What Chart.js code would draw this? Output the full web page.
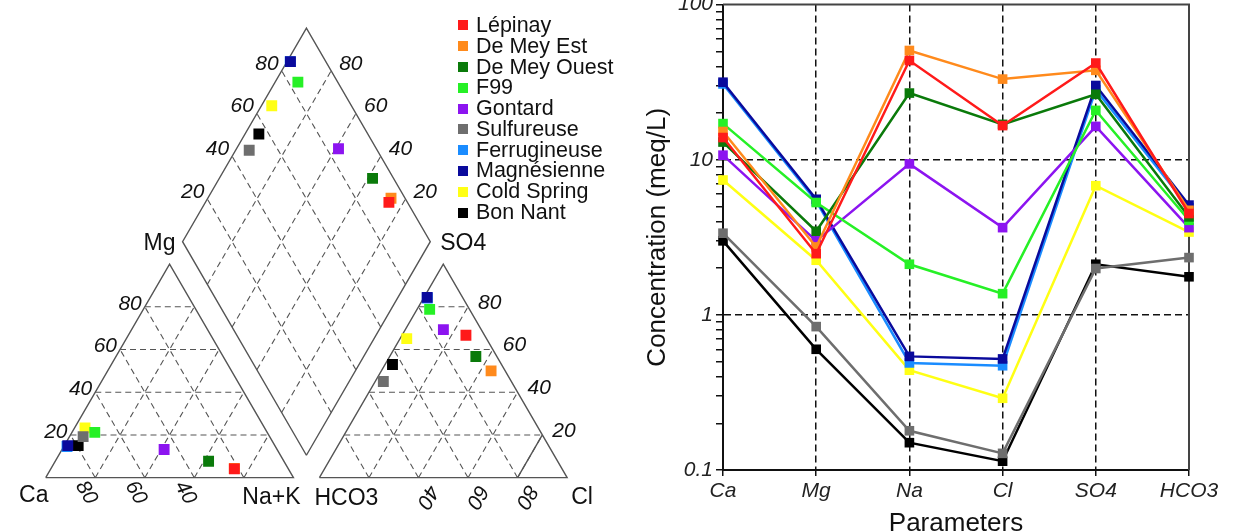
<!DOCTYPE html>
<html>
<head>
<meta charset="utf-8">
<script src="https://cdn.jsdelivr.net/npm/chart.js@4.4.1/dist/chart.umd.min.js"></script>
<style>
  html, body { margin: 0; padding: 0; background: #fff; }
  body { width: 1233px; height: 531px; position: relative; overflow: hidden; font-family: "Liberation Sans", Arial, sans-serif; }
  #piper { position: absolute; left: 0; top: 0; }
  #schoeller { position: absolute; left: 620px; top: -11px; }
  #legend { position: absolute; left: 458px; top: 15px; font-size: 21.5px; color: #111; }
  #legend .row { display: flex; align-items: center; height: 20.8px; white-space: nowrap; }
  #legend .box { width: 10px; height: 10px; margin-right: 8px; flex: none; }
</style>
</head>
<body>
<canvas id="piper" width="620" height="531"></canvas>
<canvas id="schoeller" width="613" height="554"></canvas>
<div id="legend"></div>
<script>
// --- data ---
const samples = ['Lépinay', 'De Mey Est', 'De Mey Ouest', 'F99', 'Gontard', 'Sulfureuse', 'Ferrugineuse', 'Magnésienne', 'Cold Spring', 'Bon Nant'];
const colors  = ['#ff1a1a', '#ff8a1c', '#0a7a0a', '#26f026', '#8c14f0', '#6e6e6e', '#1a8cff', '#0a0a9c', '#ffff14', '#000000'];
const params  = ['Ca', 'Mg', 'Na', 'Cl', 'SO4', 'HCO3'];

// Schoeller concentrations (meq/L), same order as params
const lepinay      = [13.9, 2.48, 43.6, 16.6, 42.0, 4.5];
const deMeyEst     = [15.2, 2.74, 50.6, 33.1, 37.7, 4.72];
const deMeyOuest   = [13.0, 3.46, 26.9, 16.9, 26.4, 4.28];
const f99          = [17.1, 5.3, 2.12, 1.37, 20.8, 4.07];
const gontard      = [10.7, 3.0, 9.4, 3.65, 16.4, 3.65];
const sulfureuse   = [3.36, 0.84, 0.179, 0.128, 1.99, 2.34];
const ferrugineuse = [30.8, 5.4, 0.49, 0.47, 28.3, 4.9];
const magnesienne  = [31.6, 5.56, 0.54, 0.52, 30.1, 5.1];
const coldSpring   = [7.4, 2.25, 0.44, 0.29, 6.8, 3.42];
const bonNant      = [3.0, 0.60, 0.15, 0.114, 2.12, 1.76];
const schoeller = [lepinay, deMeyEst, deMeyOuest, f99, gontard, sulfureuse, ferrugineuse, magnesienne, coldSpring, bonNant];

// Piper percentages (% of meq), one value per sample
const mgPct  = [4.1, 4.3, 7.7, 21.2, 13.2, 19.2, 14.6, 15.0, 23.3, 15.0];
const nakPct = [74.1, 74.0, 61.9, 9.2, 41.2, 5.5, 1.3, 1.4, 4.2, 5.6];
const so4Pct = [66.7, 50.0, 56.7, 78.8, 69.3, 45.0, 84.1, 84.4, 65.1, 53.0];
const clPct  = [25.8, 44.3, 34.8, 5.1, 15.4, 3.3, 1.5, 1.3, 2.7, 3.0];

const piperTicks = [20, 40, 60, 80];
const yLabelled  = [0.1, 1, 10, 100];

const FONT = '"Liberation Sans", Arial, sans-serif';

// keep Magnésienne drawn above Ferrugineuse, as in the figure
const drawOrder = i => samples[i] === 'Magnésienne' ? 5.5 : i;

// --- piper geometry (triangle side = 100) ---
const H = Math.sqrt(3) / 2 * 100;
const GAP = 10.5;
const pt = (x, y) => ({ x, y });
const lerp = (a, b, t) => pt(a.x + (b.x - a.x) * t, a.y + (b.y - a.y) * t);
const C0 = pt(0, 0), C1 = pt(100, 0), C2 = pt(50, H);
const A0 = pt(100 + GAP, 0), A1 = pt(200 + GAP, 0), A2 = pt(150 + GAP, H);
const DB = pt(100 + GAP / 2, GAP * Math.sqrt(3) / 2);
const DL = pt(50 + GAP / 2, H + DB.y), DR = pt(150 + GAP / 2, H + DB.y), DT = pt(100 + GAP / 2, 2 * H + DB.y);

function cationPt(mg, nak) { return pt(nak + mg / 2, mg * H / 100); }
function anionPt(so4, cl) { return pt(A0.x + cl + so4 / 2, so4 * H / 100); }
function diamondPt(nak, hco3) {
  const base = lerp(DL, DB, nak / 100);
  const up = 1 - hco3 / 100;
  return pt(base.x + (DT.x - DL.x) * up, base.y + (DT.y - DL.y) * up);
}

function segments(pairs) {
  const out = [];
  pairs.forEach(([a, b]) => out.push(a, b, { x: null, y: null }));
  return out;
}

const gridPairs = [];
piperTicks.forEach(k => {
  const t = k / 100;
  gridPairs.push([lerp(C0, C2, t), lerp(C1, C2, t)]);
  gridPairs.push([lerp(C1, C0, t), lerp(C0, C2, 1 - t)]);
  gridPairs.push([lerp(C0, C1, t), lerp(C1, C2, 1 - t)]);
  gridPairs.push([lerp(A0, A2, t), lerp(A1, A2, t)]);
  gridPairs.push([lerp(A1, A0, t), lerp(A0, A2, 1 - t)]);
  gridPairs.push([lerp(A0, A1, t), lerp(A1, A2, 1 - t)]);
  gridPairs.push([lerp(DL, DB, t), lerp(DT, DR, t)]);
  gridPairs.push([lerp(DR, DB, t), lerp(DT, DL, t)]);
});

const frame = [C0, C1, C2, C0, { x: null, y: null }, A0, A1, A2, A0, { x: null, y: null },
  DB, DR, DT, DL, DB, { x: null, y: null }, lerp(A0, A1, 0.8), lerp(A1, A2, 0.2)];

const pointSets = samples.map((name, i) => {
  const hco3 = 100 - so4Pct[i] - clPct[i];
  return {
    label: name,
    data: [cationPt(mgPct[i], nakPct[i]), anionPt(so4Pct[i], clPct[i]), diamondPt(nakPct[i], hco3)],
    backgroundColor: colors[i],
    borderColor: colors[i],
    borderWidth: 0,
    pointStyle: 'rect',
    pointRadius: 7.7,
    order: drawOrder(i)
  };
});

const piperLabels = {
  id: 'piperLabels',
  beforeDatasetsDraw(chart) {
    const { ctx, scales: { x, y } } = chart;
    const put = (str, p, dx, dy, align, rot, size, italic) => {
      ctx.save();
      ctx.translate(x.getPixelForValue(p.x) + dx, y.getPixelForValue(p.y) + dy);
      if (rot) ctx.rotate(rot * Math.PI / 180);
      ctx.font = (italic ? 'italic ' : '') + size + 'px ' + FONT;
      ctx.fillStyle = '#111';
      ctx.textAlign = align;
      ctx.textBaseline = 'middle';
      ctx.fillText(str, 0, 0);
      ctx.restore();
    };
    piperTicks.forEach(k => {
      const t = k / 100;
      put(String(k), lerp(C0, C2, t), -3, -3, 'right', 0, 21, true);
      put(String(k), lerp(A1, A2, t), 10, -4, 'left', 0, 21, true);
      put(String(k), lerp(DL, DT, t), -3, -7, 'right', 0, 21, true);
      put(String(k), lerp(DR, DT, t), 8, -7, 'left', 0, 21, true);
      if (k > 20) {
        put(String(k), lerp(C1, C0, t), -9, 15, 'center', 60, 21, true);
        put(String(k), lerp(A0, A1, t), 9, 19, 'center', 120, 21, true);
      }
    });
    put('Ca', C0, -12, 18, 'center', 0, 23, false);
    put('Na+K', C1, -22, 20, 'center', 0, 23, false);
    put('Mg', C2, -10, -20, 'center', 0, 23, false);
    put('HCO3', A0, 27, 21, 'center', 0, 23, false);
    put('Cl', A1, 15, 20, 'center', 0, 23, false);
    put('SO4', A2, 20, -20, 'center', 0, 23, false);
  }
};

new Chart(document.getElementById('piper'), {
  type: 'scatter',
  data: {
    datasets: [
      ...pointSets,
      { label: 'grid', data: segments(gridPairs), showLine: true, pointRadius: 0, borderColor: '#555', borderWidth: 1.1, borderDash: [6, 4], order: 50 },
      { label: 'frame', data: frame, showLine: true, pointRadius: 0, borderColor: '#555', borderWidth: 1.4, order: 40 }
    ]
  },
  options: {
    responsive: false,
    animation: false,
    layout: { padding: 0 },
    plugins: { legend: { display: false }, tooltip: { enabled: false } },
    scales: {
      x: { type: 'linear', display: false, bounds: 'data', min: -15.35, max: 228.74 },
      y: { type: 'linear', display: false, bounds: 'data', min: -18.5, max: 190.55 }
    }
  },
  plugins: [piperLabels]
});

// legend
const legendEl = document.getElementById('legend');
samples.forEach((name, i) => {
  const row = document.createElement('div');
  row.className = 'row';
  const box = document.createElement('span');
  box.className = 'box';
  box.style.background = colors[i];
  row.appendChild(box);
  row.appendChild(document.createTextNode(name));
  legendEl.appendChild(row);
});

// --- schoeller ---
const plotBox = {
  id: 'plotBox',
  beforeDatasetsDraw(chart) {
    const { ctx, chartArea: a } = chart;
    ctx.save();
    ctx.strokeStyle = '#444';
    ctx.lineWidth = 2;
    ctx.beginPath();
    ctx.moveTo(a.left, a.top);
    ctx.lineTo(a.right, a.top);
    ctx.lineTo(a.right, a.bottom);
    ctx.stroke();
    ctx.restore();
  }
};

new Chart(document.getElementById('schoeller'), {
  type: 'line',
  data: {
    labels: params,
    datasets: samples.map((name, i) => ({
      label: name,
      data: schoeller[i],
      borderColor: colors[i],
      backgroundColor: colors[i],
      borderWidth: 2.5,
      pointStyle: 'rect',
      pointRadius: 6.8,
      pointBorderWidth: 0,
      tension: 0,
      clip: false,
      order: drawOrder(i)
    }))
  },
  options: {
    responsive: false,
    animation: false,
    layout: { padding: { top: 15, right: 44, left: 0, bottom: 0 } },
    plugins: { legend: { display: false }, tooltip: { enabled: false } },
    scales: {
      x: {
        offset: false,
        grid: {
          color: c => (c.index === 0 || c.index === params.length - 1) ? 'transparent' : '#111',
          lineWidth: 1.5, tickLength: 6, tickColor: '#111', tickWidth: 1.5
        },
        border: { color: '#111', width: 2, dash: [7, 4] },
        ticks: { color: '#222', font: { family: FONT, size: 21, style: 'italic' }, padding: 3, maxRotation: 0, autoSkip: false },
        title: { display: true, text: 'Parameters', color: '#111', font: { family: FONT, size: 26 }, padding: { top: 4, bottom: 4 } },
        afterFit: s => { s.height = 73; }
      },
      y: {
        type: 'logarithmic',
        min: 0.1,
        max: 100,
        afterBuildTicks: s => {
          const t = [];
          [0.1, 1, 10].forEach(d => { for (let m = 1; m < 10; m++) t.push({ value: +(d * m).toPrecision(2) }); });
          t.push({ value: 100 });
          s.ticks = t;
        },
        grid: {
          color: c => (c.tick && (c.tick.value === 1 || c.tick.value === 10)) ? '#111' : 'transparent',
          lineWidth: 1.5, tickLength: 7, tickColor: '#111', tickWidth: 1.5
        },
        border: { color: '#111', width: 2, dash: [7, 4] },
        ticks: {
          color: '#222', font: { family: FONT, size: 21, style: 'italic' }, padding: 3, autoSkip: false,
          callback: v => yLabelled.includes(v) ? String(v) : ''
        },
        title: { display: true, text: 'Concentration (meq/L)', color: '#111', font: { family: FONT, size: 26 }, padding: { top: 22, bottom: 4 } },
        afterFit: s => { s.width = 103; }
      }
    }
  },
  plugins: [plotBox]
});
</script>
</body>
</html>
